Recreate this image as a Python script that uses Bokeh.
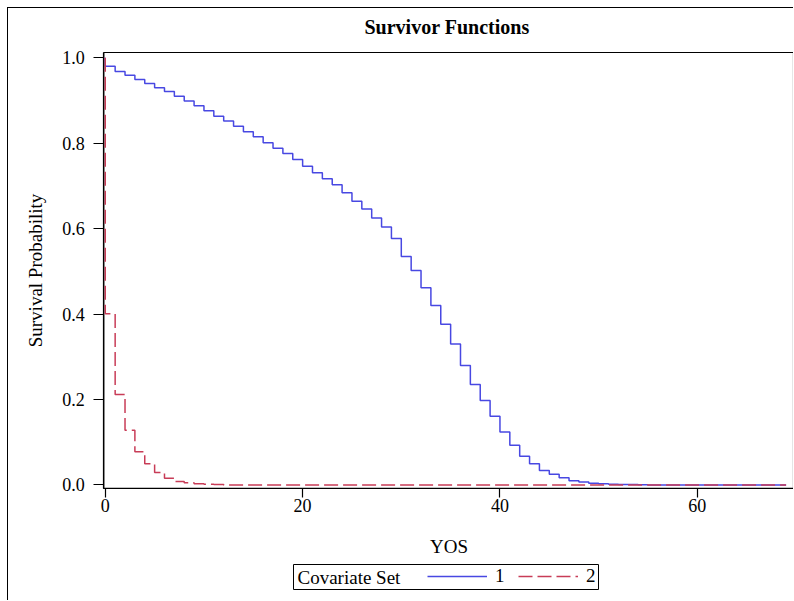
import math
from bokeh.plotting import figure
from bokeh.models import (Legend, LegendItem, FixedTicker, NumeralTickFormatter, Range1d,
                          Label, BoxAnnotation)
from bokeh.embed import file_html
from bokeh.resources import INLINE

# ---- data ----
years = list(range(0, 70))

surv_set1 = [0.980, 0.968, 0.959, 0.949, 0.940, 0.930, 0.921, 0.910, 0.899, 0.888,
             0.876, 0.863, 0.852, 0.840, 0.827, 0.815, 0.801, 0.788, 0.776, 0.762,
             0.746, 0.731, 0.717, 0.703, 0.684, 0.664, 0.646, 0.625, 0.604, 0.577,
             0.535, 0.502, 0.462, 0.420, 0.376, 0.330, 0.280, 0.235, 0.198, 0.161,
             0.124, 0.093, 0.067, 0.050, 0.034, 0.025, 0.017, 0.010, 0.007, 0.004,
             0.003, 0.002, 0.001, 0.001, 0.0005, 0.0, 0.0, 0.0, 0.0, 0.0,
             0.0, 0.0, 0.0, 0.0, 0.0, 0.0, 0.0, 0.0, 0.0, 0.0]

surv_set2 = [0.401, 0.212, 0.128, 0.078, 0.050, 0.029, 0.016, 0.008, 0.005, 0.003,
             0.002, 0.001, 0.0, 0.0, 0.0, 0.0, 0.0, 0.0, 0.0, 0.0,
             0.0, 0.0, 0.0, 0.0, 0.0, 0.0, 0.0, 0.0, 0.0, 0.0,
             0.0, 0.0, 0.0, 0.0, 0.0, 0.0, 0.0, 0.0, 0.0, 0.0,
             0.0, 0.0, 0.0, 0.0, 0.0, 0.0, 0.0, 0.0, 0.0, 0.0,
             0.0, 0.0, 0.0, 0.0, 0.0, 0.0, 0.0, 0.0, 0.0, 0.0,
             0.0, 0.0, 0.0, 0.0, 0.0, 0.0, 0.0, 0.0, 0.0, 0.0]

start_surv = 1.0
series_labels = ["1", "2"]
legend_title = "Covariate Set"
x_label = "YOS"
y_label = "Survival Probability"
x_ticks = [0, 20, 40, 60]
y_ticks = [0.0, 0.2, 0.4, 0.6, 0.8, 1.0]

FONT = "Liberation Serif"
BLUE = "#4848E2"
RED = "#C83C57"

X0, X1 = -0.15, 69.75           # data window of the plot box
Y0, Y1 = -0.008, 1.0124
X_LEFT = -9.809                 # frame extends past the box to hold axes + legend
Y_BOTTOM, Y_TOP = -0.2704, 1.0405

p = figure(width=786, height=593, output_backend="svg", toolbar_location=None,
           x_range=Range1d(X_LEFT, X1), y_range=Range1d(Y_BOTTOM, Y_TOP),
           min_border_left=0, min_border_right=1, min_border_top=32,
           min_border_bottom=1, title="Survivor Functions")
p.styles = {"border-left": "1px solid black", "border-top": "1px solid black",
            "margin-left": "7px", "margin-top": "7px"}

p.title.align = "left"
p.title.offset = 356
p.title.text_font = FONT
p.title.text_font_size = "20px"
p.title.text_font_style = "bold"
p.title.text_color = "black"
p.title.standoff = 6

p.outline_line_color = None
p.grid.visible = False

# plot box outline
p.add_layout(BoxAnnotation(left=X0, right=X1, bottom=Y0, top=Y1, fill_alpha=0,
                           line_color="black", line_width=1.2, line_alpha=1,
                           level="underlay"))

# curves
x1 = [0] + years
y1 = [start_surv] + surv_set1
x2 = [0] + years
y2 = [start_surv] + surv_set2
r1 = p.step(x1, y1, mode="after", line_color=BLUE, line_width=1.5)
r2 = p.step(x2, y2, mode="after", line_color=RED, line_width=1.5, line_dash="14 5")

for ax in (p.xaxis[0], p.yaxis[0]):
    ax.axis_line_color = "black"
    ax.axis_line_width = 1.2
    ax.major_tick_line_color = "black"
    ax.major_tick_line_width = 1.2
    ax.major_tick_in = 0
    ax.minor_tick_line_color = None
    ax.major_label_text_font = FONT
    ax.major_label_text_font_size = "18px"
    ax.major_label_text_color = "black"

p.xaxis.ticker = FixedTicker(ticks=x_ticks)
p.yaxis.ticker = FixedTicker(ticks=y_ticks)
p.yaxis.formatter = NumeralTickFormatter(format="0.0")
p.yaxis.bounds = (Y0, Y1)
p.xaxis.bounds = (X0, X1)
p.xaxis.fixed_location = Y0
p.yaxis.fixed_location = X0
p.xaxis.major_tick_out = 9
p.yaxis.major_tick_out = 10
p.xaxis.major_label_standoff = 2
p.yaxis.major_label_standoff = 9

# axis titles (screen offsets from the frame's bottom-left corner)
p.add_layout(Label(x=440.5, y=54, x_units="screen", y_units="screen", text=x_label,
                   text_font=FONT, text_font_size="19px", text_color="black",
                   text_align="center", text_baseline="middle"))
p.add_layout(Label(x=27, y=330, x_units="screen", y_units="screen", text=y_label,
                   angle=math.pi / 2, text_font=FONT, text_font_size="19px",
                   text_color="black", text_align="center", text_baseline="middle"))

# legend below the plot box
legend = Legend(items=[LegendItem(label=series_labels[0], renderers=[r1]),
                       LegendItem(label=series_labels[1], renderers=[r2])],
                orientation="horizontal", location=(419, 13.5))
legend.label_text_font = FONT
legend.label_text_font_size = "19px"
legend.label_text_color = "black"
legend.glyph_width = 60
legend.glyph_height = 20
legend.label_height = 20
legend.label_width = 10
legend.label_standoff = 8
legend.spacing = 13
legend.padding = 0
legend.margin = 0
legend.border_line_color = None
legend.background_fill_alpha = 0
p.add_layout(legend, "center")

p.add_layout(Label(x=289, y=23.5, x_units="screen", y_units="screen", text=legend_title,
                   text_font=FONT, text_font_size="19px", text_color="black",
                   text_baseline="middle", text_align="left"))
p.add_layout(BoxAnnotation(left=285, right=590, top=36, bottom=11,
                           left_units="screen", right_units="screen",
                           top_units="screen", bottom_units="screen",
                           fill_alpha=0, line_color="black", line_width=1, line_alpha=1))

open("out.html", "w").write(file_html(p, INLINE))
